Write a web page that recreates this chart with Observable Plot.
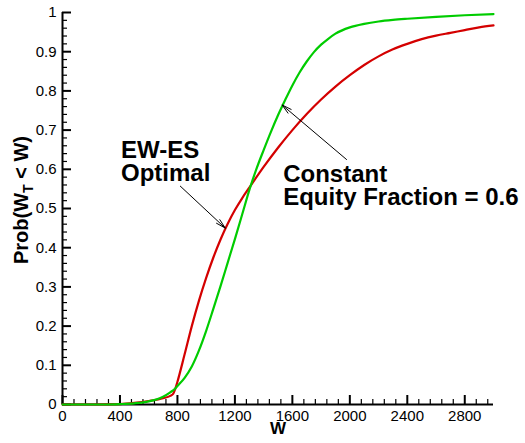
<!DOCTYPE html>
<html>
<head>
<meta charset="utf-8">
<script src="https://cdn.jsdelivr.net/npm/d3@7"></script>
<script src="https://cdn.jsdelivr.net/npm/@observablehq/plot@0.6"></script>
<style>
  body { margin: 0; background: #fff; }
  #chart svg { display: block; }
</style>
</head>
<body>
<div id="chart"></div>
<script>
// Cumulative distribution of terminal wealth, Prob(W_T < W)
// EW-ES optimal strategy
const ewesW = [0, 200, 400, 500, 600, 700, 750, 770, 785, 800, 850, 900, 950, 1000, 1050, 1100, 1150, 1200, 1250, 1300, 1400, 1500, 1600, 1700, 1800, 1900, 2000, 2100, 2200, 2300, 2400, 2500, 2600, 2700, 2800, 2900, 3000];
const ewesP = [0, 0, 0.001, 0.004, 0.009, 0.016, 0.022, 0.027, 0.040, 0.058, 0.128, 0.200, 0.265, 0.323, 0.375, 0.421, 0.461, 0.496, 0.526, 0.553, 0.606, 0.655, 0.700, 0.741, 0.778, 0.811, 0.840, 0.866, 0.888, 0.906, 0.920, 0.932, 0.941, 0.948, 0.955, 0.962, 0.967];

// Constant equity fraction 0.6
const constW = [0, 300, 400, 500, 600, 700, 750, 785, 800, 850, 900, 950, 1000, 1048, 1100, 1150, 1200, 1250, 1303, 1350, 1400, 1450, 1500, 1550, 1600, 1650, 1700, 1750, 1800, 1850, 1900, 2000, 2100, 2200, 2300, 2400, 2600, 2800, 3000];
const constP = [0, 0, 0.001, 0.003, 0.008, 0.020, 0.031, 0.041, 0.047, 0.068, 0.097, 0.138, 0.188, 0.242, 0.302, 0.362, 0.422, 0.484, 0.550, 0.601, 0.649, 0.695, 0.738, 0.777, 0.814, 0.847, 0.875, 0.899, 0.918, 0.933, 0.946, 0.962, 0.971, 0.977, 0.981, 0.984, 0.989, 0.993, 0.996];

// Axis ticks
const xTicks = [0, 400, 800, 1200, 1600, 2000, 2400, 2800];
const xTickLabels = ["0", "400", "800", "1200", "1600", "2000", "2400", "2800"];
const yTicks = [0, 0.1, 0.2, 0.3, 0.4, 0.5, 0.6, 0.7, 0.8, 0.9, 1];
const yTickLabels = ["0", "0.1", "0.2", "0.3", "0.4", "0.5", "0.6", "0.7", "0.8", "0.9", "1"];
const xMinor = d3.range(0, 3001, 80).filter(v => v % 400 !== 0);
const yMinor = d3.range(0, 51, 1).filter(i => i % 5 !== 0).map(i => i / 50);

// Curve annotations (data coordinates)
const notes = [
  {text: "EW-ES\nOptimal", W: 407, P: 0.670},
  {text: "Constant\nEquity Fraction = 0.6", W: 1536, P: 0.608}
];
const pointers = [
  {W1: 820, P1: 0.557, W2: 1133, P2: 0.450},
  {W1: 1977, P1: 0.625, W2: 1529, P2: 0.764}
];

const ewes = ewesW.map((w, i) => ({W: w, P: ewesP[i]}));
const constant = constW.map((w, i) => ({W: w, P: constP[i]}));

const font = "'Liberation Sans', Arial, Helvetica, sans-serif";

const chart = Plot.plot({
  width: 525,
  height: 443,
  marginLeft: 62,
  marginRight: 32,
  marginTop: 12,
  marginBottom: 39,
  style: {fontFamily: font, fontSize: "15px", color: "black", background: "white"},
  x: {domain: [0, 3000]},
  y: {domain: [0, 1]},
  marks: [
    Plot.axisX(xMinor, {tickSize: -5, strokeWidth: 1.2, tickFormat: () => "", label: null}),
    Plot.axisY(yMinor, {tickSize: -5, strokeWidth: 1.2, tickFormat: () => "", label: null}),
    Plot.axisX(xTicks, {tickSize: -9, tickPadding: 15, strokeWidth: 2, fontSize: 15,
      tickFormat: d => xTickLabels[xTicks.indexOf(d)], label: null}),
    Plot.axisY(yTicks, {tickSize: -9, tickPadding: 15, strokeWidth: 2, fontSize: 15,
      tickFormat: d => yTickLabels[yTicks.indexOf(d)], label: null}),
    Plot.ruleX([0], {strokeWidth: 2}),
    Plot.ruleY([0], {strokeWidth: 2}),
    Plot.line(ewes, {x: "W", y: "P", stroke: "#d40000", strokeWidth: 2.2, curve: "monotone-x"}),
    Plot.line(constant, {x: "W", y: "P", stroke: "#00cc00", strokeWidth: 2.2, curve: "monotone-x"}),
    Plot.arrow(pointers, {x1: "W1", y1: "P1", x2: "W2", y2: "P2", stroke: "black", strokeWidth: 1,
      headLength: 15, headAngle: 28}),
    Plot.text(notes, {x: "W", y: "P", text: "text", textAnchor: "start", lineAnchor: "top",
      lineHeight: 0.95, fontSize: 24, fontWeight: "bold", fill: "black"}),
    Plot.text(["W"], {frameAnchor: "bottom", dy: 29, fontSize: 17, fontWeight: "bold", fill: "black"})
  ]
});

document.getElementById("chart").appendChild(chart);

// Y-axis title with a subscript T
const svg = d3.select(chart);
const yTitle = svg.append("text")
  .attr("transform", "translate(28,200) rotate(-90)")
  .attr("text-anchor", "middle")
  .attr("font-family", font)
  .attr("font-size", 20)
  .attr("font-weight", "bold")
  .attr("fill", "black");
yTitle.append("tspan").text("Prob(W");
yTitle.append("tspan").attr("font-size", 14).attr("dy", 5).text("T");
yTitle.append("tspan").attr("dy", -5).text(" < W)");
</script>
</body>
</html>
